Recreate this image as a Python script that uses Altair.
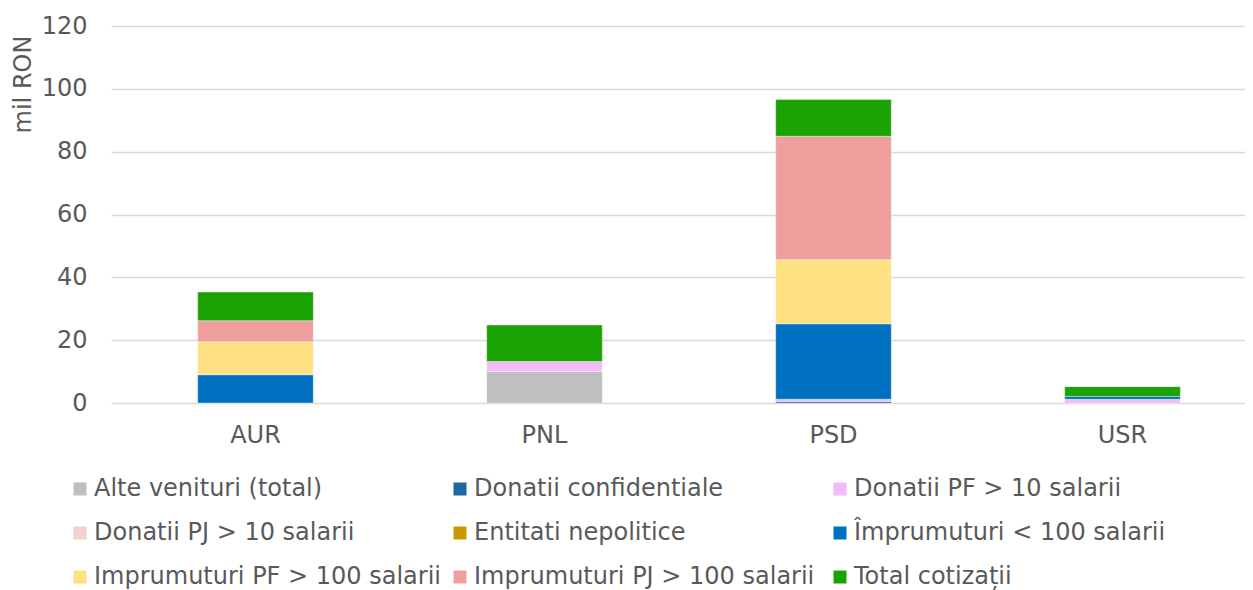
import altair as alt
import pandas as pd

parties = ["AUR", "PNL", "PSD", "USR"]
series = [
    "Alte venituri (total)",
    "Donatii confidentiale",
    "Donatii PF > 10 salarii",
    "Donatii PJ > 10 salarii",
    "Entitati nepolitice",
    "Împrumuturi < 100 salarii",
    "Imprumuturi PF > 100 salarii",
    "Imprumuturi PJ > 100 salarii",
    "Total cotizații",
]
colors = ["#BFBFBF", "#1A6AA0", "#F3BBF7", "#F8CFCF", "#C89A00",
          "#0070C0", "#FFE083", "#F09F9F", "#1AA303"]

alte_venituri = [0.0, 10.0, 0.0, 0.0]
donatii_conf = [0.0, 0.0, 0.5, 0.0]
donatii_pf = [0.0, 3.2, 0.7, 1.2]
donatii_pj = [0.0, 0.0, 0.0, 0.0]
entitati = [0.0, 0.0, 0.0, 0.0]
imprumuturi_100 = [9.0, 0.0, 24.0, 0.9]
imprumuturi_pf = [10.5, 0.0, 20.4, 0.0]
imprumuturi_pj = [6.7, 0.0, 39.3, 0.0]
cotizatii = [9.1, 11.6, 11.7, 3.1]

values = [alte_venituri, donatii_conf, donatii_pf, donatii_pj, entitati,
          imprumuturi_100, imprumuturi_pf, imprumuturi_pj, cotizatii]

rows = []
for i, (s, vals) in enumerate(zip(series, values)):
    for p, v in zip(parties, vals):
        if v > 0:
            rows.append({"party": p, "series": s, "value": v, "idx": i})
df = pd.DataFrame(rows)

FONT = "DejaVu Sans"
GREY = "#595959"

chart = alt.Chart(df).mark_bar(stroke="white", strokeWidth=0.75, strokeOpacity=0.5).encode(
    x=alt.X("party:N", sort=parties,
            scale=alt.Scale(range=[0, 1156], paddingInner=0.6, paddingOuter=0.3),
            axis=alt.Axis(title=None, labelAngle=0, ticks=False, domain=False,
                          labelPadding=20, labelFontSize=24, labelColor=GREY,
                          labelFont=FONT)),
    y=alt.Y("value:Q", stack="zero",
            scale=alt.Scale(domain=[0, 120], nice=False),
            axis=alt.Axis(title="mil RON", values=[0, 20, 40, 60, 80, 100, 120],
                          ticks=False, domain=False, labelPadding=24,
                          labelFontSize=24, labelColor=GREY, labelFont=FONT,
                          gridColor="#D9D9D9", gridWidth=1.6,
                          titleFontSize=24, titleFont=FONT, titleColor=GREY,
                          titleFontWeight="normal", titleAngle=270,
                          titleX=-88, titleY=58, titleAlign="center",
                          titleBaseline="middle")),
    color=alt.Color("series:N",
                    scale=alt.Scale(domain=series, range=colors),
                    legend=alt.Legend(title=None, orient="none", legendX=-43,
                                      legendY=451, columns=3, direction="horizontal",
                                      gridAlign="all",
                                      columnPadding=6, rowPadding=20,
                                      symbolType="square", symbolSize=169,
                                      symbolStrokeWidth=0, labelOffset=2,
                                      labelFontSize=24, labelFont=FONT,
                                      labelColor=GREY, labelLimit=500,
                                      padding=0)),
    order=alt.Order("idx:Q", sort="ascending"),
    tooltip=["party", "series", "value"],
).properties(
    width=1134,
    height=377,
    autosize=alt.AutoSizeParams(type="none"),
    padding={"left": 103, "top": 18, "right": 0, "bottom": 187},
).configure(font=FONT, view=alt.ViewConfig(stroke=None))

chart.save("out.html", embed_options={"renderer": "svg", "actions": False})
